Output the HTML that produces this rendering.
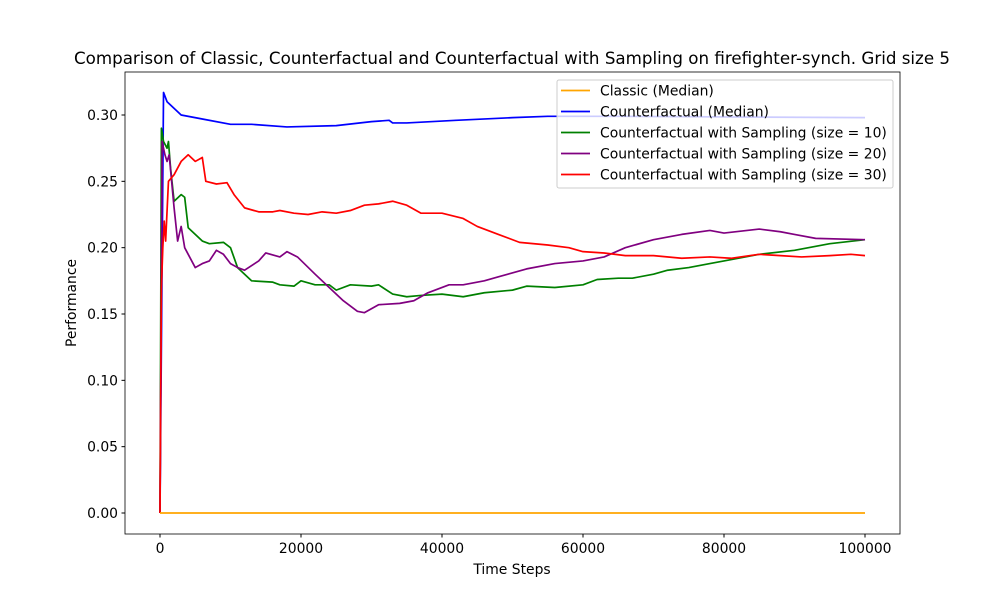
<!DOCTYPE html>
<html><head><meta charset="utf-8"><style>
body{margin:0;background:#fff;}
svg text{font-family:"DejaVu Sans","Liberation Sans",sans-serif;fill:#000;}
</style></head><body>
<svg id="chart" width="1000" height="600" xmlns="http://www.w3.org/2000/svg">
<rect width="1000" height="600" fill="#fff"/>
<text x="512" y="64" font-size="16.7" text-anchor="middle">Comparison of Classic, Counterfactual and Counterfactual with Sampling on firefighter-synch. Grid size 5</text>
<g id="plot"></g>
<rect x="125" y="72" width="775" height="462" fill="none" stroke="#000" stroke-width="0.8"/>
<g id="xt"></g><g id="yt"></g>
<text x="512" y="574" font-size="13.9" text-anchor="middle">Time Steps</text>
<text transform="translate(76,303) rotate(-90)" font-size="13.9" text-anchor="middle">Performance</text>
<g id="legend"></g>
</svg>
<script>
const xTicks=[0,20000,40000,60000,80000,100000];
const yTicks=[0,0.05,0.10,0.15,0.20,0.25,0.30];
const seriesNames=["Classic (Median)","Counterfactual (Median)","Counterfactual with Sampling (size = 10)","Counterfactual with Sampling (size = 20)","Counterfactual with Sampling (size = 30)"];
const seriesColors=["orange","blue","green","purple","red"];
const classicT=[0,100];
const classicV=[0,0];
const blueT=[0,0.5,1,3,6,10,13,18,25,30,32.5,33,35,42,50,55,65,100];
const blueV=[0,0.317,0.31,0.30,0.297,0.293,0.293,0.291,0.292,0.295,0.296,0.294,0.294,0.296,0.298,0.299,0.299,0.298];
const greenT=[0,0.2,0.5,1,1.2,1.5,2,3,3.5,4,5,6,7,9,10,11,12,13,16,17,19,20,22,24,25,27,30,31,33,35,37,40,43,46,50,52,56,60,62,65,67,70,72,75,78,80,85,90,95,100];
const greenV=[0,0.29,0.28,0.275,0.28,0.26,0.235,0.24,0.238,0.215,0.21,0.205,0.203,0.204,0.2,0.185,0.18,0.175,0.174,0.172,0.171,0.175,0.172,0.172,0.168,0.172,0.171,0.172,0.165,0.163,0.164,0.165,0.163,0.166,0.168,0.171,0.17,0.172,0.176,0.177,0.177,0.18,0.183,0.185,0.188,0.19,0.195,0.198,0.203,0.206];
const purpleT=[0,0.3,0.7,1,1.3,2,2.5,3,3.5,4,5,6,7,8,9,10,11,12,14,15,17,18,19.5,22,24,26,28,29,31,34,36,38,41,43,46,48,52,56,60,63,66,70,74,78,80,85,88,90,93,100];
const purpleV=[0,0.28,0.27,0.265,0.27,0.23,0.205,0.216,0.2,0.195,0.185,0.188,0.19,0.198,0.195,0.188,0.185,0.183,0.19,0.196,0.193,0.197,0.193,0.18,0.17,0.16,0.152,0.151,0.157,0.158,0.16,0.166,0.172,0.172,0.175,0.178,0.184,0.188,0.19,0.193,0.2,0.206,0.21,0.213,0.211,0.214,0.212,0.21,0.207,0.206];
const redT=[0,0.2,0.4,0.6,0.8,1.2,2,3,4,5,6,6.5,8,9.5,10.5,12,14,16,17,19,21,23,25,27,29,31,33,35,37,40,43,45,48,51,55,58,60,63,66,70,74,78,81,85,88,91,95,98,100];
const redV=[0,0.17,0.2,0.22,0.205,0.25,0.255,0.265,0.27,0.265,0.268,0.25,0.248,0.249,0.24,0.23,0.227,0.227,0.228,0.226,0.225,0.227,0.226,0.228,0.232,0.233,0.235,0.232,0.226,0.226,0.222,0.216,0.21,0.204,0.202,0.2,0.197,0.196,0.194,0.194,0.192,0.193,0.192,0.195,0.194,0.193,0.194,0.195,0.194];
const allT=[classicT,blueT,greenT,purpleT,redT];
const allV=[classicV,blueV,greenV,purpleV,redV];
const NS="http://www.w3.org/2000/svg";
function sx(t){return 160+t/100000*705;}
function sy(v){return 513-v/0.30*398;}
const plot=document.getElementById('plot');
const slugs=["classic","counterfactual","sampling-10","sampling-20","sampling-30"];
const order=[1,2,3,4,0];
order.forEach(i=>{
  const p=document.createElementNS(NS,'polyline');
  p.setAttribute('points',allT[i].map((t,j)=>sx(t*1000).toFixed(2)+','+sy(allV[i][j]).toFixed(2)).join(' '));
  p.setAttribute('fill','none');p.setAttribute('stroke',seriesColors[i]);p.setAttribute('stroke-width','1.7');p.setAttribute('stroke-linejoin','round');
  
  
  plot.appendChild(p);
});
const xt=document.getElementById('xt');
xTicks.forEach(v=>{
  const l=document.createElementNS(NS,'line');
  l.setAttribute('x1',sx(v));l.setAttribute('x2',sx(v));l.setAttribute('y1',534);l.setAttribute('y2',537.5);l.setAttribute('stroke','#000');
  
  
  xt.appendChild(l);
  const t=document.createElementNS(NS,'text');
  t.setAttribute('x',sx(v));t.setAttribute('y',553);t.setAttribute('font-size','13.9');t.setAttribute('text-anchor','middle');t.textContent=v;
  
  
  xt.appendChild(t);
});
const yt=document.getElementById('yt');
yTicks.forEach(v=>{
  const l=document.createElementNS(NS,'line');
  l.setAttribute('x1',121.5);l.setAttribute('x2',125);l.setAttribute('y1',sy(v));l.setAttribute('y2',sy(v));l.setAttribute('stroke','#000');
  
  
  yt.appendChild(l);
  const t=document.createElementNS(NS,'text');
  t.setAttribute('x',118);t.setAttribute('y',sy(v)+5);t.setAttribute('font-size','13.9');t.setAttribute('text-anchor','end');t.textContent=v.toFixed(2);
  
  
  yt.appendChild(t);
});
const lg=document.getElementById('legend');
const box=document.createElementNS(NS,'rect');
box.setAttribute('x',557);box.setAttribute('y',80);box.setAttribute('width',336);box.setAttribute('height',108);box.setAttribute('rx',2);
box.setAttribute('fill','rgba(255,255,255,0.8)');box.setAttribute('stroke','#ccc');


lg.appendChild(box);
seriesNames.forEach((n,i)=>{
  const y=90.5+i*21;
  const l=document.createElementNS(NS,'line');
  l.setAttribute('x1',561);l.setAttribute('x2',590);l.setAttribute('y1',y);l.setAttribute('y2',y);l.setAttribute('stroke',seriesColors[i]);l.setAttribute('stroke-width','1.7');
  
  
  lg.appendChild(l);
  const t=document.createElementNS(NS,'text');
  t.setAttribute('x',600);t.setAttribute('y',y+5);t.setAttribute('font-size','13.9');t.textContent=n;
  
  
  lg.appendChild(t);
});
</script>
</body></html>
